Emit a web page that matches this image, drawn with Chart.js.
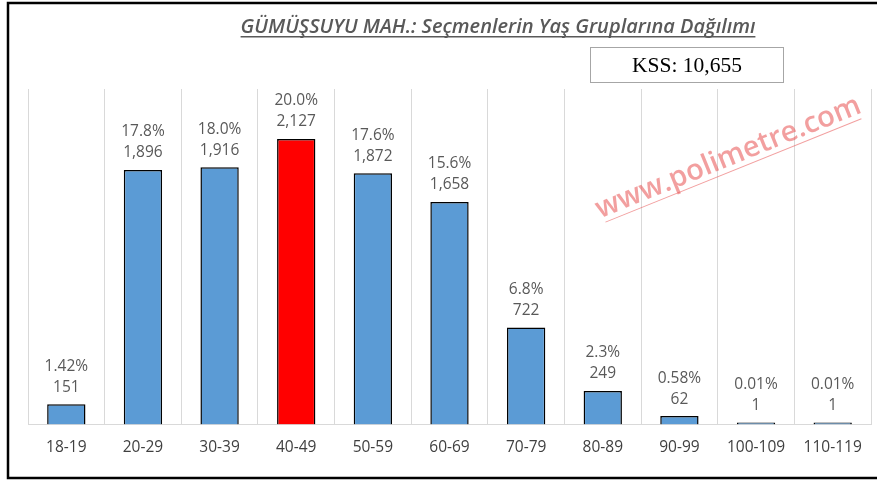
<!DOCTYPE html>
<html>
<head>
<meta charset="utf-8">
<script src="https://cdn.jsdelivr.net/npm/chart.js@4.4.0/dist/chart.umd.min.js"></script>
<style>
  html, body { margin: 0; padding: 0; background: #fff; }
  #wrap { width: 877px; height: 481px; }
</style>
</head>
<body>
<div id="wrap"><canvas id="myChart" width="877" height="481"></canvas></div>
<script>
var ageGroups = ['18-19', '20-29', '30-39', '40-49', '50-59', '60-69', '70-79', '80-89', '90-99', '100-109', '110-119'];
var voters = [151, 1896, 1916, 2127, 1872, 1658, 722, 249, 62, 1, 1];
var shares = ['1.42%', '17.8%', '18.0%', '20.0%', '17.6%', '15.6%', '6.8%', '2.3%', '0.58%', '0.01%', '0.01%'];
var highlightIndex = 3;
var chartTitle = 'GÜMÜŞSUYU MAH.: Seçmenlerin Yaş Gruplarına Dağılımı';
var kssText = 'KSS: 10,655';
var watermark = 'www.polimetre.com';

var barColors = voters.map(function (v, i) { return i === highlightIndex ? '#FF0000' : '#5B9BD5'; });

function fmt(n) {
    return n.toString().replace(/\B(?=(\d{3})+(?!\d))/g, ',');
}

// labels, title, box, watermark and frame
var decor = {
    id: 'decor',
    afterDatasetsDraw: function (chart) {
        var ctx = chart.ctx;
        var meta = chart.getDatasetMeta(0);
        ctx.save();
        ctx.fillStyle = '#595959';
        ctx.font = '15.5px "Open Sans", sans-serif';
        ctx.textAlign = 'center';
        ctx.textBaseline = 'middle';
        meta.data.forEach(function (bar, i) {
            ctx.fillText(fmt(voters[i]), bar.x, bar.y - 17);
            ctx.fillText(shares[i], bar.x, bar.y - 38);
        });
        ctx.restore();
    },
    afterDraw: function (chart) {
        var ctx = chart.ctx;
        ctx.save();
        // title
        ctx.font = 'italic 600 20px "Open Sans", sans-serif';
        ctx.fillStyle = '#595959';
        ctx.textAlign = 'center';
        ctx.textBaseline = 'alphabetic';
        var tx = 498, ty = 33;
        ctx.fillText(chartTitle, tx, ty);
        var w = ctx.measureText(chartTitle).width;
        ctx.fillRect(tx - w / 2, ty + 3, w, 1.5);

        // KSS box
        ctx.strokeStyle = '#A6A6A6';
        ctx.lineWidth = 1;
        ctx.strokeRect(590.5, 47.5, 193, 35);
        ctx.fillStyle = '#000';
        ctx.font = '21.5px "Liberation Serif", serif';
        ctx.textBaseline = 'middle';
        ctx.fillText(kssText, 687, 66);

        // watermark
        ctx.translate(728, 157);
        ctx.rotate(-22 * Math.PI / 180);
        ctx.font = '600 29px "Open Sans", sans-serif';
        ctx.fillStyle = 'rgba(232, 80, 80, 0.55)';
        ctx.textBaseline = 'alphabetic';
        ctx.fillText(watermark, 0, 9);
        ctx.fillRect(-138, 14, 276, 1);
        ctx.restore();

        // outer frame
        ctx.save();
        ctx.strokeStyle = '#000';
        ctx.lineWidth = 2.5;
        ctx.strokeRect(8, 3, 880, 475);
        ctx.restore();
    }
};

var ctx = document.getElementById('myChart').getContext('2d');
var chart = new Chart(ctx, {
    type: 'bar',
    data: {
        labels: ageGroups,
        datasets: [{
            data: voters,
            backgroundColor: barColors,
            borderColor: '#000',
            borderWidth: 1.5,
            borderSkipped: 'bottom',
            minBarLength: 2,
            categoryPercentage: 1,
            barPercentage: 0.5
        }]
    },
    options: {
        responsive: false,
        animation: false,
        layout: { padding: { left: 28, right: 6, top: 89, bottom: 10 } },
        plugins: { legend: { display: false }, tooltip: { enabled: false } },
        scales: {
            x: {
                grid: { color: '#D9D9D9', drawTicks: false, offset: true },
                border: { color: '#D9D9D9' },
                ticks: { color: '#404040', font: { size: 15.5, family: '"Open Sans", sans-serif' }, padding: 14 }
            },
            y: {
                display: false,
                min: 0,
                max: 2500
            }
        }
    },
    plugins: [decor]
});
</script>
</body>
</html>
